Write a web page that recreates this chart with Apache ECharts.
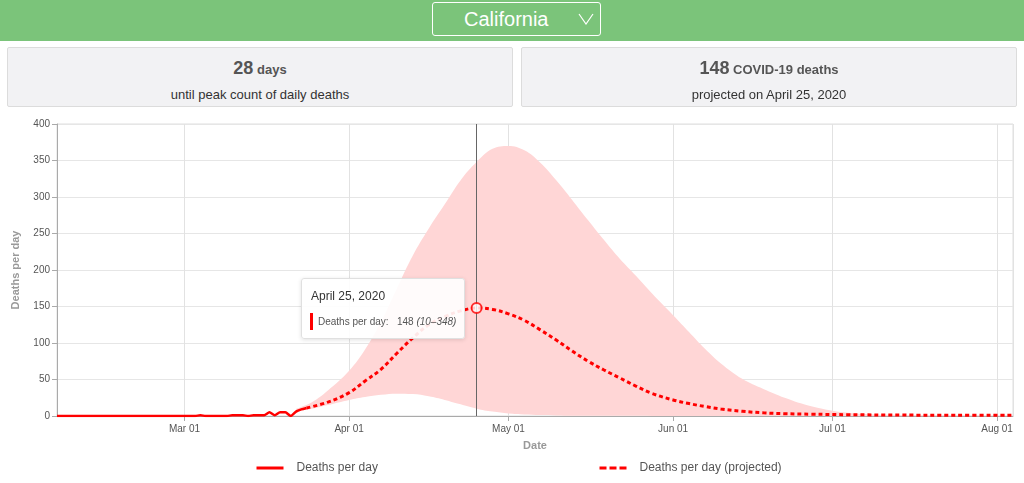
<!DOCTYPE html>
<html>
<head>
<meta charset="utf-8">
<script src="https://cdn.jsdelivr.net/npm/echarts@6/dist/echarts.min.js"></script>
<style>
html,body{margin:0;padding:0;width:1024px;height:483px;overflow:hidden;background:#fff;font-family:"Liberation Sans",Arial,sans-serif;}
#chart{position:absolute;left:0;top:0;width:1024px;height:483px;}
#hdr{position:absolute;left:0;top:0;width:1024px;height:41px;background:#7bc47a;}
#sel{position:absolute;left:432px;top:2px;width:169px;height:34px;border:1px solid #fff;border-radius:3px;box-sizing:border-box;}
#sel span{position:absolute;left:31px;top:5px;font-size:20px;color:#fff;}
#sel svg{position:absolute;left:145px;top:10px;}
.card{position:absolute;top:47px;height:60px;background:#f2f2f4;border:1px solid #dcdcdc;box-sizing:border-box;border-radius:2px;text-align:center;color:#555;}
.l1{position:absolute;left:0;right:0;top:10px;font-weight:bold;font-size:13px;color:#555;}
.l1 b{font-size:18px;}
.l2{position:absolute;left:0;right:0;top:39px;font-size:13px;color:#333;}
</style>
</head>
<body>
<div id="chart"></div>
<div id="hdr"><div id="sel"><span>California</span><svg width="16" height="12" viewBox="0 0 16 12"><polyline points="1,1 8,11 15,1" fill="none" stroke="#fff" stroke-width="1.2"/></svg></div></div>
<div class="card" style="left:7px;width:506px;"><div class="l1"><b>28</b> days</div><div class="l2">until peak count of daily deaths</div></div>
<div class="card" style="left:521px;width:496px;"><div class="l1"><b>148</b> COVID-19 deaths</div><div class="l2">projected on April 25, 2020</div></div>
<script>
// ---- data ----
const actualDates = ['2020-02-06','2020-03-03','2020-03-04','2020-03-05','2020-03-09','2020-03-10','2020-03-11','2020-03-12','2020-03-13','2020-03-14','2020-03-15','2020-03-16','2020-03-17','2020-03-18','2020-03-19','2020-03-20','2020-03-21','2020-03-22','2020-03-23','2020-03-24'];
const actualValues = [0,0,1,0,0,1,1,1,0,1,1,1,5,1,5,5,0,6,9,11];

const projDates = ['2020-03-24','2020-03-28','2020-04-01','2020-04-04','2020-04-07','2020-04-10','2020-04-13','2020-04-16','2020-04-19','2020-04-22','2020-04-25','2020-04-28','2020-05-01','2020-05-04','2020-05-07','2020-05-10','2020-05-13','2020-05-16','2020-05-19','2020-05-22','2020-05-25','2020-05-28','2020-06-01','2020-06-04','2020-06-07','2020-06-10','2020-06-14','2020-06-18','2020-06-22','2020-06-27','2020-07-04','2020-07-14','2020-07-24','2020-08-04'];
const projMean = [11,19,32,48,64,86,107,125,136,144,148,146,140,131,118,104,89,75,63,52,41,31,22,17,13,9.5,6.5,4.3,3.2,2.5,1.8,1.3,1,1];

const bandDates = ['2020-03-22','2020-03-25','2020-03-28','2020-04-01','2020-04-04','2020-04-07','2020-04-10','2020-04-13','2020-04-16','2020-04-19','2020-04-22','2020-04-25','2020-04-28','2020-05-01','2020-05-04','2020-05-07','2020-05-10','2020-05-13','2020-05-16','2020-05-19','2020-05-22','2020-05-25','2020-05-28','2020-06-01','2020-06-04','2020-06-07','2020-06-10','2020-06-14','2020-06-18','2020-06-22','2020-06-27','2020-07-04','2020-07-14','2020-07-24','2020-08-04'];
const bandLower = [7,10,15,22,26,29,30.5,30,27,22,16,10,6,3.5,2,1.2,0.8,0.5,0.4,0.3,0.2,0.2,0.1,0.1,0,0,0,0,0,0,0,0,0,0,0];
const bandUpper = [10,19,35,62,91,129,175,220,257,290,323,348,366,370,364,347,323,296,268,241,215,192,168,138,115,92,72,51,37,25,13.5,4.5,1.4,0.8,0.5];

const highlightDate = '2020-04-25';
const highlightLabel = 'April 25, 2020';
const seriesActual = 'Deaths per day';
const seriesProjected = 'Deaths per day (projected)';

// ---- chart ----
const chart = echarts.init(document.getElementById('chart'), null, {renderer:'canvas'});
const hiIdx = projDates.indexOf(highlightDate);
const bIdx = bandDates.indexOf(highlightDate);
const hiVal = projMean[hiIdx];

function legendFor(name, left, dash){
  return {data:[name],left:left,top:462,padding:0,itemWidth:27,itemHeight:14,
    itemStyle:{opacity:0},
    lineStyle:{width:3,color:'#ff0000',type:dash},
    textStyle:{color:'#555',fontSize:12,fontFamily:'Liberation Sans',padding:[0,0,0,8]}};
}

const option = {
  animation:false,
  grid:{left:57,right:11,top:124,bottom:67,show:true,borderColor:'#dedede',borderWidth:1,backgroundColor:'transparent'},
  xAxis:{
    type:'time', min:'2020-02-06', max:'2020-08-04', splitNumber:6,
    name:'Date', nameLocation:'middle', nameGap:24,
    nameTextStyle:{color:'#999',fontWeight:'bold',fontSize:11,fontFamily:'Liberation Sans'},
    axisLine:{show:true,lineStyle:{color:'#aaa'}},
    axisTick:{show:true,length:5,lineStyle:{color:'#aaa'}},
    axisLabel:{color:'#555',fontSize:10,fontFamily:'Liberation Sans',margin:8,formatter:'{MMM} {dd}'},
    splitLine:{show:true,lineStyle:{color:'#e2e2e2'}}
  },
  yAxis:{
    type:'value', min:0, max:400, interval:50,
    name:'Deaths per day', nameLocation:'middle', nameGap:36,
    nameTextStyle:{color:'#999',fontWeight:'bold',fontSize:11,fontFamily:'Liberation Sans'},
    axisLine:{show:true,lineStyle:{color:'#aaa'}},
    axisTick:{show:true,length:5,lineStyle:{color:'#aaa'}},
    axisLabel:{color:'#555',fontSize:10,fontFamily:'Liberation Sans',margin:7},
    splitLine:{show:true,lineStyle:{color:'#e6e6e6'}}
  },
  legend:[
    legendFor(seriesActual,255,'solid'),
    legendFor(seriesProjected,598,[7,3])
  ],
  tooltip:{
    trigger:'item', triggerOn:'none', alwaysShowContent:true, position:[301,278],
    transitionDuration:0, backgroundColor:'rgba(255,255,255,0.9)', borderColor:'#e0e0e0', borderWidth:1, padding:[8,8],
    extraCssText:'box-shadow:0 1px 4px rgba(0,0,0,0.12);border-radius:3px;',
    formatter:function(){
      return '<div style="font-family:Liberation Sans,Arial;font-size:12px;color:#333;line-height:14px;margin:2px 0 9px 1px">'+highlightLabel+'</div>'+
        '<div style="font-family:Liberation Sans,Arial;font-size:10px;color:#555;line-height:17px;white-space:nowrap">'+
        '<span style="display:inline-block;width:3px;height:17px;background:#f00;vertical-align:middle;margin-right:5px"></span>'+
        '<span style="vertical-align:middle">'+seriesActual+':&nbsp;&nbsp; '+hiVal+' <i>('+bandLower[bIdx]+'\u2013'+bandUpper[bIdx]+')</i></span></div>';
    }
  },
  series:[
    {name:'lower',type:'line',stack:'band',data:bandDates.map((d,i)=>[d,bandLower[i]]),symbol:'none',smooth:0.4,lineStyle:{opacity:0},silent:true,z:1},
    {name:'band',type:'line',stack:'band',data:bandDates.map((d,i)=>[d,bandUpper[i]-bandLower[i]]),symbol:'none',smooth:0.4,lineStyle:{opacity:0},areaStyle:{color:'#ffd6d6',opacity:1},silent:true,z:1},
    {name:seriesActual,type:'line',data:actualDates.map((d,i)=>[d,actualValues[i]]),symbol:'none',smooth:0.2,lineStyle:{color:'#ff0000',width:2.5},itemStyle:{color:'#ff0000'},z:3},
    {name:seriesProjected,type:'line',data:projDates.map((d,i)=>[d,projMean[i]]),symbol:'none',smooth:0.4,lineStyle:{color:'#ff0000',width:3,type:[4,3]},itemStyle:{color:'#ff0000'},z:3},
    {name:'marker',type:'scatter',data:[[highlightDate,hiVal]],symbol:'circle',symbolSize:10,
     itemStyle:{color:'#fff',borderColor:'#ff0000',borderWidth:2},z:6,
     markLine:{silent:true,symbol:'none',label:{show:false},lineStyle:{color:'#666',width:1,type:'solid'},data:[{xAxis:highlightDate}],z:2}}
  ]
};
chart.setOption(option);
chart.dispatchAction({type:'showTip',seriesIndex:4,dataIndex:0});
</script>
</body>
</html>
